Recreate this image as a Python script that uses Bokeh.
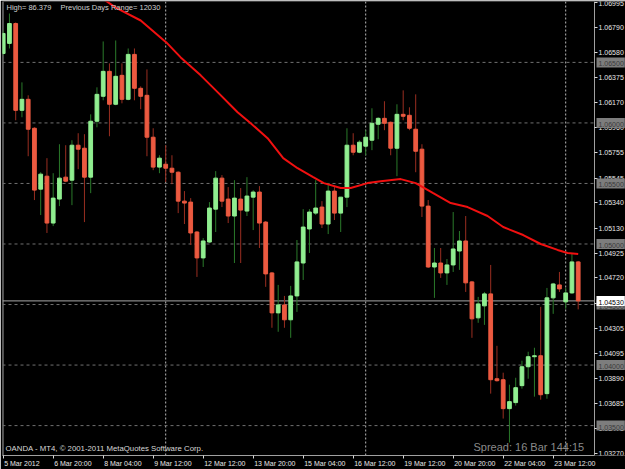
from bokeh.plotting import figure
from bokeh.models import (FixedTicker, LinearAxis, Range1d, Label, Span,
                          ColumnDataSource, NumeralTickFormatter, CustomJSTickFormatter)
from bokeh.embed import file_html
from bokeh.resources import INLINE

# ---------------- data (H4 bars) ----------------
bar_index = list(range(93))
opens = [
    1.06574, 1.06657, 1.06821, 1.06104, 1.06195, 1.05956, 1.05453, 1.05560, 1.05173, 1.05371,
    1.05552, 1.05527, 1.05816, 1.05791, 1.05552, 1.06014, 1.06220, 1.06426, 1.06154, 1.06393,
    1.06195, 1.06566, 1.06286, 1.06228, 1.05882, 1.05635, 1.05659, 1.05626, 1.05593, 1.05354,
    1.05346, 1.05099, 1.04885, 1.05016, 1.05288, 1.05544, 1.05371, 1.05231, 1.05371, 1.05272,
    1.05387, 1.05429, 1.05181, 1.04761, 1.04431, 1.04497, 1.04374, 1.04571, 1.04843, 1.05124,
    1.05255, 1.05305, 1.05165, 1.05437, 1.05255, 1.05387, 1.05816, 1.05758, 1.05808, 1.05857,
    1.05989, 1.06038, 1.06005, 1.05791, 1.06071, 1.06063, 1.05948, 1.05783, 1.05313, 1.04810,
    1.04843, 1.04761, 1.04827, 1.04942, 1.05025, 1.04687, 1.04390, 1.04489, 1.04588, 1.03887,
    1.03879, 1.03640, 1.03690, 1.03830, 1.03986, 1.04069, 1.04077, 1.03764, 1.04555, 1.04662,
    1.04522, 1.04596, 1.04852]
highs = [
    1.06764, 1.06904, 1.06830, 1.06335, 1.06228, 1.05964, 1.05593, 1.05709, 1.05585, 1.05824,
    1.05816, 1.05857, 1.05915, 1.05907, 1.06071, 1.06294, 1.06673, 1.06492, 1.06681, 1.06492,
    1.06615, 1.06615, 1.06302, 1.06442, 1.05956, 1.05733, 1.05816, 1.05733, 1.05600, 1.05437,
    1.05379, 1.05107, 1.05049, 1.05346, 1.05602, 1.05569, 1.05470, 1.05527, 1.05462, 1.05552,
    1.05445, 1.05478, 1.05190, 1.04769, 1.04662, 1.04571, 1.04654, 1.05033, 1.05288, 1.05288,
    1.05527, 1.05354, 1.05503, 1.05470, 1.05387, 1.05956, 1.05915, 1.05857, 1.05940, 1.06121,
    1.06047, 1.06179, 1.06012, 1.06154, 1.06269, 1.06129, 1.06236, 1.05824, 1.05363, 1.04967,
    1.04967, 1.04876, 1.05264, 1.05107, 1.05231, 1.04695, 1.04563, 1.04604, 1.04827, 1.04159,
    1.03937, 1.03838, 1.03895, 1.04036, 1.04110, 1.04143, 1.04481, 1.04637, 1.04679, 1.04769,
    1.04637, 1.04918, 1.04860]
lows = [
    1.06558, 1.06615, 1.06022, 1.06047, 1.05725, 1.05363, 1.05239, 1.05091, 1.05148, 1.05313,
    1.05511, 1.05321, 1.05618, 1.05181, 1.05420, 1.05964, 1.06187, 1.05890, 1.06146, 1.06162,
    1.06187, 1.06187, 1.06113, 1.05725, 1.05610, 1.05585, 1.05511, 1.05494, 1.05255, 1.05165,
    1.04992, 1.04728, 1.04810, 1.05008, 1.05099, 1.05305, 1.05173, 1.04843, 1.04843, 1.05231,
    1.05115, 1.04967, 1.04646, 1.04308, 1.04275, 1.04308, 1.04225, 1.04439, 1.04703, 1.04926,
    1.05239, 1.05132, 1.05082, 1.05198, 1.05099, 1.05305, 1.05733, 1.05750, 1.05733, 1.05775,
    1.05865, 1.05940, 1.05733, 1.05560, 1.06022, 1.05940, 1.05593, 1.05223, 1.04802, 1.04555,
    1.04720, 1.04662, 1.04769, 1.04786, 1.04604, 1.04225, 1.04349, 1.04332, 1.03764, 1.03863,
    1.03558, 1.03360, 1.03665, 1.03805, 1.03887, 1.03739, 1.03714, 1.03722, 1.04423, 1.04604,
    1.04464, 1.04588, 1.04460]
closes = [
    1.06739, 1.06821, 1.06104, 1.06195, 1.05948, 1.05445, 1.05577, 1.05173, 1.05379, 1.05544,
    1.05519, 1.05816, 1.05783, 1.05552, 1.06014, 1.06236, 1.06426, 1.06154, 1.06385, 1.06195,
    1.06566, 1.06286, 1.06220, 1.05882, 1.05635, 1.05709, 1.05626, 1.05593, 1.05354, 1.05338,
    1.05091, 1.04885, 1.05025, 1.05297, 1.05544, 1.05354, 1.05231, 1.05379, 1.05280, 1.05396,
    1.05429, 1.05173, 1.04753, 1.04431, 1.04497, 1.04374, 1.04571, 1.04852, 1.05140, 1.05264,
    1.05297, 1.05165, 1.05437, 1.05255, 1.05387, 1.05816, 1.05758, 1.05841, 1.05882, 1.05997,
    1.06038, 1.05997, 1.05791, 1.06071, 1.06055, 1.05956, 1.05766, 1.05313, 1.04810, 1.04843,
    1.04761, 1.04827, 1.04959, 1.05025, 1.04679, 1.04382, 1.04505, 1.04588, 1.03879, 1.03871,
    1.03640, 1.03698, 1.03813, 1.03986, 1.04069, 1.04077, 1.03755, 1.04555, 1.04670, 1.04629,
    1.04596, 1.04852, 1.04530]

# moving average line (bar position, price)
ma_bar = [15.0, 18.0, 22.0, 26.1, 28.4, 31.6, 34.5, 37.5, 39.6, 42.3, 44.8, 47.1, 49.6, 51.3,
          54.0, 55.6, 58.3, 60.4, 63.6, 66.0, 68.8, 71.6, 74.3, 77.5, 80.0, 83.2, 86.0, 88.7,
          90.3, 92.0]
ma_price = [1.07060, 1.06953, 1.06846, 1.06665, 1.06541, 1.06393, 1.06244, 1.06088, 1.05997,
            1.05874, 1.05709, 1.05626, 1.05552, 1.05503, 1.05462, 1.05462, 1.05503, 1.05519,
            1.05536, 1.05503, 1.05420, 1.05338, 1.05305, 1.05231, 1.05140, 1.05074, 1.05000,
            1.04951, 1.04926, 1.04918]

time_tick_bars = [0, 8, 16, 24, 32, 40, 48, 56, 64, 72, 80, 88]
time_tick_labels = ["5 Mar 2012", "6 Mar 20:00", "8 Mar 04:00", "9 Mar 12:00",
                    "12 Mar 12:00", "13 Mar 20:00", "15 Mar 04:00", "16 Mar 12:00",
                    "19 Mar 12:00", "20 Mar 20:00", "22 Mar 04:00", "23 Mar 12:00"]

price_ticks = [1.06995, 1.06790, 1.06580, 1.06375, 1.06170, 1.05960, 1.05755, 1.05545,
               1.05340, 1.05130, 1.04925, 1.04720, 1.04510, 1.04305, 1.04095, 1.03890,
               1.03685, 1.03475, 1.03270]
level_prices = [1.06500, 1.06000, 1.05500, 1.05000, 1.04500, 1.04000, 1.03500]
level_labels = ["1.06500", "1.06000", "1.05500", "1.05000", "1.04500", "1.04000", "1.03500"]
separator_bars = [26, 58, 90]
current_price = 1.04530
current_label = "1.04530"

header_left = "High= 86.379"
header_right = "Previous Days Range= 12030"
copyright_text = "OANDA - MT4, \u00a9 2001-2011 MetaQuotes Software Corp."
spread_text = "Spread: 16 Bar  144:15"

# ---------------- layout / styling ----------------
FONT = "Liberation Sans"
BULL_BODY, BULL_WICK = "#90EE90", "#2a7a2a"
BEAR_BODY, BEAR_WICK = "#EC5A40", "#9a2e20"
BAR_PX = 6.25          # pixels per bar
X0_PX = 2.7            # pixel of bar 0
def px_to_bar(px):
    return (px - X0_PX) / BAR_PX

X_LEFT, X_RIGHT = px_to_bar(2), px_to_bar(625)
X_AXIS = px_to_bar(594)          # price scale line

up = [c >= o for o, c in zip(opens, closes)]
src = ColumnDataSource(dict(
    x=bar_index, high=highs, low=lows,
    top=[max(o, c) for o, c in zip(opens, closes)],
    bottom=[min(o, c) for o, c in zip(opens, closes)],
    body=[BULL_BODY if u else BEAR_BODY for u in up],
    wick=[BULL_WICK if u else BEAR_WICK for u in up],
))

p = figure(width=625, height=469, output_backend="svg", toolbar_location=None,
           x_range=Range1d(X_LEFT, X_RIGHT), y_range=Range1d(1.03253, 1.07003),
           x_axis_location=None, y_axis_location=None,
           background_fill_color="black", border_fill_color="black",
           min_border_left=2, min_border_top=1, min_border_right=0, min_border_bottom=13)
p.xgrid.visible = False
p.ygrid.visible = False
p.outline_line_color = None

# left border
p.add_layout(Span(location=px_to_bar(2.5), dimension="height", line_color="#a0a0a0",
                  line_width=1, level="underlay"))

# round-level dashed lines, weekly separators, bid line
p.segment(x0=[X_LEFT] * len(level_prices), x1=[X_AXIS] * len(level_prices),
          y0=level_prices, y1=level_prices, line_color="#707070", line_dash="3 3", line_width=1)
for sb in separator_bars:
    p.add_layout(Span(location=sb, dimension="height", line_color="#b8b8b8",
                      line_dash="2 2", line_width=1, level="underlay"))
p.segment(x0=[X_LEFT], x1=[X_AXIS], y0=[current_price], y1=[current_price],
          line_color="#a8a8a8", line_width=1)

# candles
p.segment(x0="x", y0="low", x1="x", y1="high", line_color="wick", line_width=1, source=src)
p.vbar(x="x", width=0.6, top="top", bottom="bottom", fill_color="body",
       line_color="body", line_width=1, source=src)

# moving average
p.line(ma_bar, ma_price, line_color="#f01010", line_width=2)

# right price scale (placed at a fixed location so the frame reaches the window edge)
yaxis = LinearAxis(ticker=FixedTicker(ticks=price_ticks), fixed_location=X_AXIS,
                   formatter=NumeralTickFormatter(format="0.00000"),
                   axis_line_color="#a0a0a0", major_tick_line_color="#d8d8d8",
                   major_tick_out=3, major_tick_in=0, minor_tick_line_color=None,
                   major_label_text_color="#e8e8e8", major_label_text_font=FONT,
                   major_label_text_font_size="7px", major_label_standoff=1)
p.add_layout(yaxis, "right")

# bottom time axis: labels left-aligned on their tick (ticks drawn as minor ticks)
CW = {" ": .278, ":": .278, "M": .833, "a": .556, "r": .333}
def text_w(s, px=7.0):
    return sum(CW.get(ch, .556) for ch in s) * px

label_pos = [b + (1 + text_w(t) / 2) / BAR_PX for b, t in zip(time_tick_bars, time_tick_labels)]
xaxis = LinearAxis(ticker=FixedTicker(ticks=label_pos, minor_ticks=time_tick_bars),
                   bounds=(X_LEFT, X_AXIS),
                   formatter=CustomJSTickFormatter(args=dict(pos=label_pos, labels=time_tick_labels), code="""
                       let best = 0;
                       for (let i = 0; i < pos.length; i++) {
                         if (Math.abs(pos[i] - tick) < Math.abs(pos[best] - tick)) best = i;
                       }
                       return labels[best];
                   """),
                   axis_line_color="#a0a0a0", major_tick_line_color=None,
                   major_tick_out=3, major_tick_in=0,
                   minor_tick_line_color="#d8d8d8", minor_tick_out=3, minor_tick_in=0,
                   major_label_text_color="#e8e8e8", major_label_text_font=FONT,
                   major_label_text_font_size="7px", major_label_standoff=1)
p.add_layout(xaxis, "below")

# round-level price boxes on the price scale
LBL_X = px_to_bar(596)
for lv, txt in zip(level_prices, level_labels):
    p.add_layout(Label(x=LBL_X, y=lv, text=txt,
                       text_font=FONT, text_font_size="7px", text_color="#3a3a3a",
                       text_baseline="middle", text_align="left",
                       background_fill_color="#7d7d7d", padding=(2, 1, 4, 1)))
p.add_layout(Label(x=LBL_X, y=current_price, text=current_label,
                   text_font=FONT, text_font_size="7px", text_color="black",
                   text_baseline="middle", text_align="left",
                   background_fill_color="white", padding=(2, 1, 4, 1)))

# texts
p.add_layout(Label(x=4, y=448, x_units="screen", y_units="screen", text=header_left,
                   text_font=FONT, text_font_size="7.5px", text_color="#d0d0d0",
                   text_baseline="middle"))
p.add_layout(Label(x=58, y=448, x_units="screen", y_units="screen", text=header_right,
                   text_font=FONT, text_font_size="7.5px", text_color="#d0d0d0",
                   text_baseline="middle"))
p.add_layout(Label(x=3, y=7, x_units="screen", y_units="screen", text=copyright_text,
                   text_font=FONT, text_font_size="7.8px", text_color="#d8d8d8",
                   text_baseline="middle"))
p.add_layout(Label(x=471, y=9, x_units="screen", y_units="screen", text=spread_text,
                   text_font=FONT, text_font_size="11px", text_color="#8a8a8a",
                   text_baseline="middle"))

open("out.html", "w").write(file_html(p, INLINE))
